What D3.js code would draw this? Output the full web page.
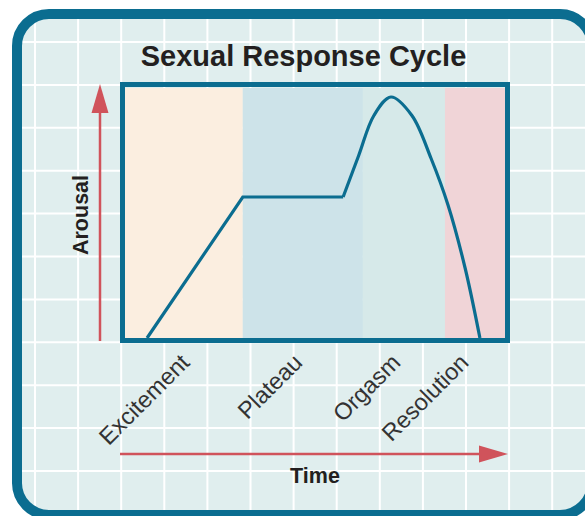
<!DOCTYPE html>
<html>
<head>
<meta charset="utf-8">
<script src="https://cdn.jsdelivr.net/npm/d3@7"></script>
<style>
html,body{margin:0;padding:0;background:#fff;}
svg{display:block;}
text{font-family:"Liberation Sans",Arial,sans-serif;}
</style>
</head>
<body>
<svg id="chart" width="585" height="516"></svg>
<script>
// ---- data ----
const title = "Sexual Response Cycle";
const phases = ["Excitement", "Plateau", "Orgasm", "Resolution"];
const phaseStarts = [0, 31, 62.6, 84.2];
const phaseEnds = [31, 62.6, 84.2, 100];
const phaseColors = ["#fbeee0", "#cde3e9", "#d6e9e9", "#f0d4d7"];
// response curve (time %, arousal %)
const rampTime = [5.8, 31, 57.4];
const rampArousal = [0, 56.4, 56.4];
const peakTime = [57.4, 61.5, 65.5, 70, 75.5, 80.5, 85, 89.5, 93.4];
const peakArousal = [56.4, 73, 89, 96.4, 89, 72, 53.2, 28, 0];
const yLabel = "Arousal";
const xLabel = "Time";

const svg = d3.select("#chart");
const teal = "#0b6d90";
const red = "#d0535b";

// frame + grid
const defs = svg.append("defs");
defs.append("clipPath").attr("id", "frameClip")
  .append("rect").attr("x", 17).attr("y", 14).attr("width", 575).attr("height", 501).attr("rx", 32);

svg.append("rect").attr("x", 17).attr("y", 14).attr("width", 575).attr("height", 501)
  .attr("rx", 32).attr("fill", "#e0eeee");

const grid = svg.append("g").attr("clip-path", "url(#frameClip)");
const gx = d3.range(35, 590, 43.1);
const gy = d3.range(42, 520, 42.9);
grid.selectAll(".vg").data(gx).join("line")
  .attr("x1", d => d).attr("x2", d => d).attr("y1", 0).attr("y2", 516)
  .attr("stroke", "#fff").attr("stroke-width", 2);
grid.selectAll(".hg").data(gy).join("line")
  .attr("y1", d => d).attr("y2", d => d).attr("x1", 0).attr("x2", 600)
  .attr("stroke", "#fff").attr("stroke-width", 2);

svg.append("rect").attr("x", 17).attr("y", 14).attr("width", 575).attr("height", 501)
  .attr("rx", 32).attr("fill", "none").attr("stroke", teal).attr("stroke-width", 10);

// scales
const x = d3.scaleLinear().domain([0, 100]).range([125, 505]);
const y = d3.scaleLinear().domain([0, 100]).range([338, 88]);

// phase bands
svg.selectAll(".band").data(phases).join("rect")
  .attr("x", (d, i) => x(phaseStarts[i]))
  .attr("width", (d, i) => x(phaseEnds[i]) - x(phaseStarts[i]))
  .attr("y", y(100)).attr("height", y(0) - y(100))
  .attr("fill", (d, i) => phaseColors[i]);

// curve
const lin = d3.line().x(d => x(d[0])).y(d => y(d[1])).curve(d3.curveLinear);
const smooth = d3.line().x(d => x(d[0])).y(d => y(d[1])).curve(d3.curveCatmullRom.alpha(0.5));
svg.append("path").attr("d", lin(rampTime.map((t, i) => [t, rampArousal[i]])))
  .attr("fill", "none").attr("stroke", teal).attr("stroke-width", 3.2).attr("stroke-linejoin", "miter");
svg.append("path").attr("d", smooth(peakTime.map((t, i) => [t, peakArousal[i]])))
  .attr("fill", "none").attr("stroke", teal).attr("stroke-width", 3.2);

// plot border
svg.append("rect").attr("x", x(0) - 2.5).attr("y", y(100) - 3.5)
  .attr("width", x(100) - x(0) + 5).attr("height", y(0) - y(100) + 6)
  .attr("fill", "none").attr("stroke", teal).attr("stroke-width", 5);

// title
svg.append("text").attr("x", 303.5).attr("y", 66).attr("text-anchor", "middle")
  .attr("font-size", 29).attr("font-weight", "bold").attr("fill", "#231f20").text(title);

// arrows
svg.append("line").attr("x1", 100).attr("x2", 100).attr("y1", 341).attr("y2", 110)
  .attr("stroke", red).attr("stroke-width", 2.5);
svg.append("path").attr("d", "M100,84 L108.5,113 L91.5,113 Z").attr("fill", red);
svg.append("line").attr("x1", 120).attr("x2", 482).attr("y1", 454).attr("y2", 454)
  .attr("stroke", red).attr("stroke-width", 2.5);
svg.append("path").attr("d", "M508,454 L479,445.5 L479,462.5 Z").attr("fill", red);

// axis labels
svg.append("text").attr("transform", "translate(88,215) rotate(-90)")
  .attr("text-anchor", "middle").attr("font-size", 21.5).attr("font-weight", "bold")
  .attr("fill", "#231f20").text(yLabel);
svg.append("text").attr("x", 315).attr("y", 483).attr("text-anchor", "middle")
  .attr("font-size", 21.5).attr("font-weight", "bold").attr("fill", "#231f20").text(xLabel);

// phase labels
const labelNudge = [7, 1, -2, -5];
svg.selectAll(".plabel").data(phases).join("text")
  .attr("transform", (d, i) => `translate(${x((phaseStarts[i] + phaseEnds[i]) / 2) + labelNudge[i]},364) rotate(-45)`)
  .attr("text-anchor", "end").attr("font-size", 23.5).attr("fill", "#333")
  .text(d => d);
</script>
</body>
</html>
